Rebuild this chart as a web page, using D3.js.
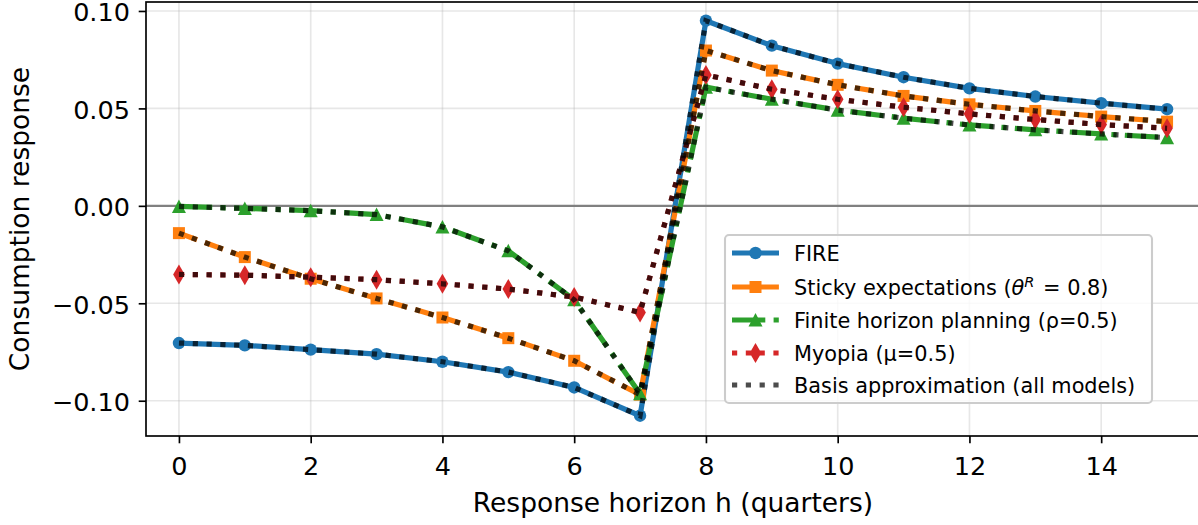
<!DOCTYPE html>
<html>
<head>
<meta charset="utf-8">
<script src="https://cdn.jsdelivr.net/npm/d3@7"></script>
<style>
  html, body { margin: 0; padding: 0; background: #fff; }
  svg { display: block; font-family: "DejaVu Sans", sans-serif; }
</style>
</head>
<body>
<svg id="chart" width="1198" height="525"></svg>
<script>
// Response horizons (quarters)
const horizons = [0, 1, 2, 3, 4, 5, 6, 7, 8, 9, 10, 11, 12, 13, 14, 15];

// Consumption responses by model
const fire = [-0.0704, -0.0716, -0.0738, -0.0761, -0.0800, -0.0853, -0.0932, -0.1077,
              0.0950, 0.0822, 0.0730, 0.0660, 0.0603, 0.0561, 0.0527, 0.0496];
const sticky = [-0.0140, -0.0263, -0.0374, -0.0475, -0.0573, -0.0679, -0.0795, -0.0969,
                0.0797, 0.0694, 0.0621, 0.0564, 0.0521, 0.0487, 0.0458, 0.0432];
const finiteHorizon = [-0.0003, -0.0013, -0.0025, -0.0045, -0.0108, -0.0231, -0.0482, -0.0964,
                       0.0609, 0.0547, 0.0491, 0.0450, 0.0415, 0.0390, 0.0369, 0.0350];
const myopia = [-0.0352, -0.0356, -0.0366, -0.0379, -0.0400, -0.0427, -0.0468, -0.0547,
                0.0672, 0.0598, 0.0547, 0.0506, 0.0472, 0.0443, 0.0417, 0.0398];

// Basis approximation of each model's response
const basisFire = fire;
const basisSticky = sticky;
const basisFinite = finiteHorizon;
const basisMyopia = myopia;

const xTicks = [0, 2, 4, 6, 8, 10, 12, 14];
const yTicks = [-0.10, -0.05, 0.00, 0.05, 0.10];

const models = [
  { name: "FIRE", values: fire, color: "#1f77b4", dash: null, marker: "circle" },
  { name: "Sticky", values: sticky, color: "#ff7f0e", dash: "19.3,8.3", marker: "square" },
  { name: "Finite", values: finiteHorizon, color: "#2ca02c", dash: "33.3,8.3,5.2,8.3", marker: "triangle" },
  { name: "Myopia", values: myopia, color: "#d62728", dash: "5.2,8.6", marker: "diamond" }
];
const basis = [basisFire, basisSticky, basisFinite, basisMyopia];

const pt = 150 / 72;
const legendFont = 10 * pt;
const tickFont = 25.5;
const titleFont = 26.5;
const svg = d3.select("#chart");

const plotLeft = 146, plotRight = 1200, plotTop = 2, plotBottom = 436;
const x = d3.scaleLinear().domain([-0.5, 15.5]).range([plotLeft, plotRight]);
const y = d3.scaleLinear().domain([-0.1181, 0.1046]).range([plotBottom, plotTop]);

// grid
const grid = svg.append("g");
grid.selectAll("line.gx").data(xTicks).join("line")
  .attr("x1", d => x(d)).attr("x2", d => x(d)).attr("y1", plotTop).attr("y2", plotBottom)
  .attr("stroke", "#b0b0b0").attr("stroke-opacity", 0.3).attr("stroke-width", 0.8 * pt);
grid.selectAll("line.gy").data(yTicks).join("line")
  .attr("x1", plotLeft).attr("x2", plotRight).attr("y1", d => y(d)).attr("y2", d => y(d))
  .attr("stroke", "#b0b0b0").attr("stroke-opacity", 0.3).attr("stroke-width", 0.8 * pt);

// zero line
svg.append("line")
  .attr("x1", plotLeft).attr("x2", plotRight).attr("y1", y(0)).attr("y2", y(0))
  .attr("stroke", "#808080").attr("stroke-width", 1 * pt);

svg.append("clipPath").attr("id", "plotclip").append("rect")
  .attr("x", plotLeft).attr("y", plotTop).attr("width", plotRight - plotLeft).attr("height", plotBottom - plotTop);

const plot = svg.append("g").attr("clip-path", "url(#plotclip)");
const line = d3.line().x((d, i) => x(horizons[i])).y(d => y(d));

function markerPath(kind) {
  if (kind === "circle") return d3.symbol(d3.symbolCircle, Math.PI * 6.2 * 6.2)();
  if (kind === "square") return "M-6,-6H6V6H-6Z";
  if (kind === "triangle") return "M0,-7L7,6.5L-7,6.5Z";
  if (kind === "diamond") return "M0,-10L5.8,0L0,10L-5.8,0Z";
}

// model responses
models.forEach(m => {
  const g = plot.append("g");
  g.append("path").attr("d", line(m.values))
    .attr("fill", "none").attr("stroke", m.color).attr("stroke-width", 2.5 * pt)
    .attr("stroke-dasharray", m.dash).attr("stroke-linejoin", "round");
  g.selectAll("path.mk").data(m.values).join("path")
    .attr("class", "mk")
    .attr("transform", (d, i) => `translate(${x(horizons[i])},${y(d)})`)
    .attr("d", markerPath(m.marker)).attr("fill", m.color);
});

// basis approximations drawn over the model lines
basis.forEach(b => {
  plot.append("path").attr("d", line(b))
    .attr("fill", "none").attr("stroke", "#000").attr("stroke-opacity", 0.7)
    .attr("stroke-width", 2.5 * pt).attr("stroke-dasharray", "5.2,8.6");
});

// spines
svg.append("rect").attr("x", plotLeft).attr("y", plotTop).attr("width", plotRight - plotLeft).attr("height", plotBottom - plotTop)
  .attr("fill", "none").attr("stroke", "#000").attr("stroke-width", 0.8 * pt);

// axes
const xAxis = svg.append("g").attr("transform", `translate(0,${plotBottom})`)
  .call(d3.axisBottom(x).tickValues(xTicks).tickFormat(d3.format("d")).tickSize(3.5 * pt).tickPadding(3.5 * pt));
const yAxis = svg.append("g").attr("transform", `translate(${plotLeft},0)`)
  .call(d3.axisLeft(y).tickValues(yTicks).tickFormat(d => d3.format(".2f")(d).replace("-", "\u2212")).tickSize(3.5 * pt).tickPadding(3.5 * pt + 1.5));
[xAxis, yAxis].forEach(a => {
  a.select(".domain").remove();
  a.selectAll(".tick line").attr("stroke", "#000").attr("stroke-width", 0.8 * pt);
  a.selectAll(".tick text").attr("fill", "#000").attr("font-size", tickFont)
    .attr("font-family", "DejaVu Sans");
});
xAxis.selectAll(".tick text").attr("y", 475 - plotBottom).attr("dy", "0");
yAxis.selectAll(".tick text").attr("dy", "0.39em");

// axis titles
svg.append("text").attr("x", (plotLeft + plotRight) / 2).attr("y", 512)
  .attr("text-anchor", "middle").attr("font-size", titleFont).text("Response horizon h (quarters)");
svg.append("text").attr("transform", `translate(29,${(plotTop + plotBottom) / 2}) rotate(-90)`)
  .attr("text-anchor", "middle").attr("font-size", titleFont).text("Consumption response");

// legend
const lg = svg.append("g");
lg.append("rect").attr("x", 725).attr("y", 235).attr("width", 427).attr("height", 168)
  .attr("rx", 4).attr("fill", "#fff").attr("fill-opacity", 0.8)
  .attr("stroke", "#cccccc").attr("stroke-width", 1 * pt);
const rowY = [253, 287, 320, 353, 385];
const hx0 = 732, hx1 = 779, tx = 794;
models.forEach((m, i) => {
  lg.append("line").attr("x1", hx0).attr("x2", hx1).attr("y1", rowY[i]).attr("y2", rowY[i])
    .attr("stroke", m.color).attr("stroke-width", 2.5 * pt).attr("stroke-dasharray", m.dash);
  lg.append("path").attr("transform", `translate(${(hx0 + hx1) / 2},${rowY[i]})`)
    .attr("d", markerPath(m.marker)).attr("fill", m.color);
});
lg.append("line").attr("x1", hx0).attr("x2", hx1).attr("y1", rowY[4]).attr("y2", rowY[4])
  .attr("stroke", "#000").attr("stroke-opacity", 0.7).attr("stroke-width", 2.5 * pt)
  .attr("stroke-dasharray", "5.2,8.6");

const labelText = (i) => lg.append("text").attr("x", tx).attr("y", rowY[i] + 7.5).attr("font-size", legendFont);
labelText(0).text("FIRE");
const t1 = labelText(1);
t1.append("tspan").text("Sticky expectations (");
t1.append("tspan").attr("font-style", "italic").text("\u03b8");
t1.append("tspan").attr("font-style", "italic").attr("font-size", legendFont * 0.7).attr("dy", -8).text("R");
t1.append("tspan").attr("dy", 8).attr("dx", 2).text(" = 0.8)");
labelText(2).text("Finite horizon planning (\u03c1=0.5)");
labelText(3).text("Myopia (\u03bc=0.5)");
labelText(4).text("Basis approximation (all models)");
</script>
</body>
</html>
